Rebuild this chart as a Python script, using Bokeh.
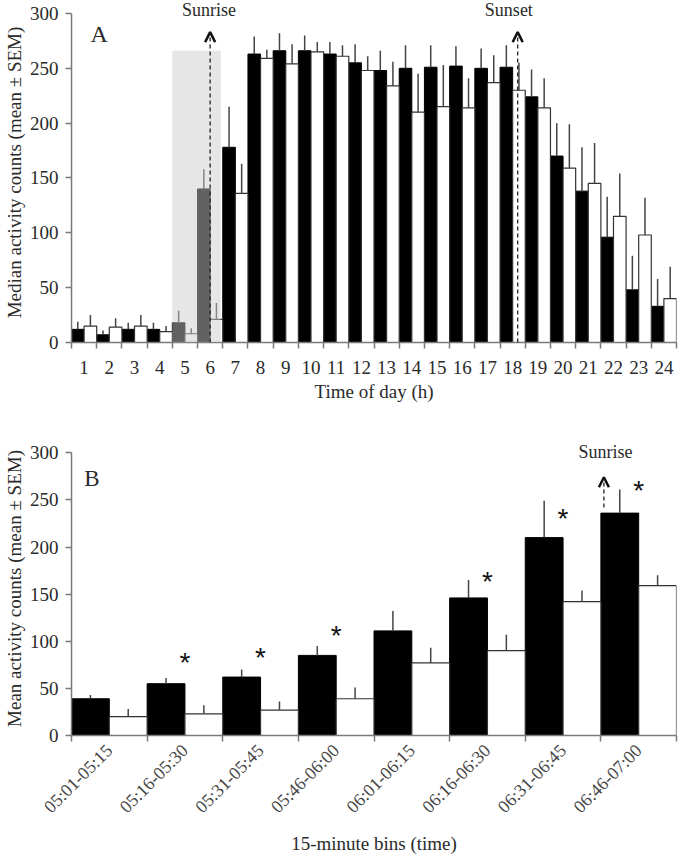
import math
from bokeh.plotting import figure
from bokeh.layouts import column
from bokeh.models import (ColumnDataSource, FixedTicker, BoxAnnotation, Arrow,
                          OpenHead, Label, Range1d)
from bokeh.core.properties import value
from bokeh.transform import dodge
from bokeh.embed import file_html
from bokeh.resources import INLINE

# ---------------- data: panel A ----------------
hours = list(range(1, 25))
hour_labels = [str(h) for h in hours]
black_a = [12, 7, 12, 12, 18, 140, 178, 263, 266, 266, 263, 255, 248, 250, 251, 252, 250, 251, 224, 170, 138, 96, 48, 33]
black_a_sem = [7, 4, 6, 6, 11, 18, 37, 16, 16, 14, 11, 17, 18, 21, 20, 18, 18, 20, 25, 30, 40, 37, 31, 25]
white_a = [15, 14, 15, 10, 8, 21, 136, 259, 254, 265, 261, 248, 234, 210, 215, 214, 237, 230, 214, 159, 145, 115, 98, 40]
white_a_sem = [10, 8, 10, 5, 5, 15, 27, 8, 18, 9, 10, 13, 22, 35, 38, 27, 25, 25, 27, 40, 37, 39, 34, 29]

# ---------------- data: panel B ----------------
bins = ["05:01-05:15", "05:16-05:30", "05:31-05:45", "05:46-06:00",
        "06:01-06:15", "06:16-06:30", "06:31-06:45", "06:46-07:00"]
bin_pos = list(range(1, 9))
black_b = [39, 55, 62, 85, 111, 146, 210, 236]
black_b_sem = [4, 6, 8, 10, 21, 19, 39, 25]
white_b = [20, 23, 27, 39, 77, 90, 142, 159]
white_b_sem = [8, 9, 9, 12, 16, 17, 12, 11]
sig_bins = [2, 3, 4, 6, 7, 8]
sig_y = [86, 91, 115, 172, 239, 268]

FONT = "Liberation Serif"
TXT = "#2a2a2a"
AX = "#7a7a7a"
FS = "19px"


def style(p, left_title):
    p.xgrid.visible = False
    p.ygrid.visible = False
    p.outline_line_color = None
    p.background_fill_color = "white"
    p.border_fill_color = "white"
    for ax in (p.xaxis[0], p.yaxis[0]):
        ax.axis_line_color = AX
        ax.axis_line_width = 1.5
        ax.major_tick_line_color = AX
        ax.minor_tick_line_color = AX
        ax.major_tick_line_width = 1.5
        ax.minor_tick_line_width = 1.5
        ax.major_label_text_font = FONT
        ax.major_label_text_font_size = FS
        ax.major_label_text_color = TXT
        ax.axis_label_text_font = FONT
        ax.axis_label_text_font_size = FS
        ax.axis_label_text_font_style = "normal"
        ax.axis_label_text_color = TXT
    p.yaxis.axis_label = left_title
    p.yaxis.ticker = FixedTicker(ticks=[0, 50, 100, 150, 200, 250, 300])
    p.yaxis.bounds = (0, 300)
    p.yaxis.major_tick_out = 6
    p.yaxis.major_tick_in = 0
    p.yaxis.minor_tick_out = 0
    p.yaxis.minor_tick_in = 0
    p.yaxis.major_label_standoff = 7
    p.yaxis.axis_label_standoff = 2
    p.xaxis.major_tick_out = 0
    p.xaxis.major_tick_in = 0
    p.xaxis.minor_tick_out = 6
    p.xaxis.minor_tick_in = 0


# ================= Panel A =================
srcA = ColumnDataSource(dict(
    x=hours, black=black_a, white=white_a,
    black_top=[m + s for m, s in zip(black_a, black_a_sem)],
    white_top=[m + s for m, s in zip(white_a, white_a_sem)],
))

pA = figure(width=684, height=404, output_backend="svg", toolbar_location=None,
            x_range=Range1d(0.5, 24.5), y_range=Range1d(0, 310),
            min_border_left=60, min_border_right=8, min_border_top=2,
            min_border_bottom=62)
style(pA, "Median activity counts (mean ± SEM)")
pA.xaxis.axis_label = "Time of day (h)"
pA.xaxis.ticker = FixedTicker(ticks=hours, minor_ticks=[h - 0.5 for h in hours] + [24.5])
pA.xaxis.major_label_overrides = {h: l for h, l in zip(hours, hour_labels)}
pA.xaxis.major_label_standoff = 12
pA.xaxis.axis_label_standoff = 4

pA.vbar(x=dodge("x", -0.25), top="black", bottom=0, width=0.5, source=srcA,
        fill_color="black", line_color="black", line_width=1)
pA.vbar(x=dodge("x", 0.25), top="white", bottom=0, width=0.5, source=srcA,
        fill_color="white", line_color="#333333", line_width=1.2)
pA.segment(x0=dodge("x", -0.25), y0="black", x1=dodge("x", -0.25), y1="black_top",
           source=srcA, line_color="#444444", line_width=1.5)
pA.segment(x0=dodge("x", 0.25), y0="white", x1=dodge("x", 0.25), y1="white_top",
           source=srcA, line_color="#444444", line_width=1.5)

pA.add_layout(BoxAnnotation(left=4.5, right=6.42, bottom=0, top=266,
                            fill_color="#cacaca", fill_alpha=0.48, line_color=None))
pA.add_layout(Arrow(x_start=6.0, y_start=0, x_end=6.0, y_end=283,
                    line_color="#222222", line_width=1.3, line_dash="4 3",
                    end=OpenHead(size=10, line_width=2.5, line_color="#111111")))
pA.add_layout(Arrow(x_start=18.2, y_start=0, x_end=18.2, y_end=283,
                    line_color="#222222", line_width=1.3, line_dash="4 3",
                    end=OpenHead(size=10, line_width=2.5, line_color="#111111")))
pA.add_layout(Label(x=5.95, y=303, text="Sunrise", text_align="center", text_baseline="middle",
                    text_font=FONT, text_font_size="18px", text_color=TXT))
pA.add_layout(Label(x=17.85, y=303, text="Sunset", text_align="center", text_baseline="middle",
                    text_font=FONT, text_font_size="18px", text_color=TXT))
pA.add_layout(Label(x=1.6, y=281, text="A", text_align="center", text_baseline="middle",
                    text_font=FONT, text_font_size="24px", text_color=TXT))

# ================= Panel B =================
srcB = ColumnDataSource(dict(
    x=bin_pos, black=black_b, white=white_b,
    black_top=[m + s for m, s in zip(black_b, black_b_sem)],
    white_top=[m + s for m, s in zip(white_b, white_b_sem)],
))
srcS = ColumnDataSource(dict(x=sig_bins, y=sig_y, t=["*"] * len(sig_bins)))

pB = figure(width=684, height=452, output_backend="svg", toolbar_location=None,
            x_range=Range1d(0.5, 8.5), y_range=Range1d(0, 312),
            min_border_left=64, min_border_right=4, min_border_top=37,
            min_border_bottom=121)
style(pB, "Mean activity counts (mean ± SEM)")
pB.xaxis.axis_label = "15-minute bins (time)"
pB.xaxis.ticker = FixedTicker(ticks=bin_pos, minor_ticks=[b - 0.5 for b in bin_pos] + [8.5])
pB.xaxis.major_label_overrides = {b: l for b, l in zip(bin_pos, bins)}
pB.xaxis.major_label_orientation = math.pi / 4
pB.xaxis.major_label_text_font_size = "18px"
pB.xaxis.major_label_standoff = 6
pB.xaxis.axis_label_standoff = 6
pB.xaxis.major_label_text_color = "#444444"

pB.vbar(x=dodge("x", -0.25), top="black", bottom=0, width=0.5, source=srcB,
        fill_color="black", line_color="black", line_width=1)
pB.vbar(x=dodge("x", 0.25), top="white", bottom=0, width=0.5, source=srcB,
        fill_color="white", line_color="#333333", line_width=1.2)
pB.segment(x0=dodge("x", -0.25), y0="black", x1=dodge("x", -0.25), y1="black_top",
           source=srcB, line_color="#444444", line_width=1.5)
pB.segment(x0=dodge("x", 0.25), y0="white", x1=dodge("x", 0.25), y1="white_top",
           source=srcB, line_color="#444444", line_width=1.5)
pB.text(x="x", y="y", text="t", source=srcS, text_align="center", text_baseline="middle",
        y_offset=8, text_font=value("Liberation Sans"), text_font_size="28px",
        text_color="#111111")

pB.add_layout(Arrow(x_start=7.54, y_start=242, x_end=7.54, y_end=274,
                    line_color="#222222", line_width=1.3, line_dash="4 3",
                    end=OpenHead(size=10, line_width=2.5, line_color="#111111")))
pB.add_layout(Label(x=7.56, y=301, text="Sunrise", text_align="center", text_baseline="middle",
                    text_font=FONT, text_font_size="18px", text_color=TXT))
pB.add_layout(Label(x=0.77, y=273, text="B", text_align="center", text_baseline="middle",
                    text_font=FONT, text_font_size="23px", text_color=TXT))

layout = column(pA, pB, spacing=0)
open("out.html", "w").write(file_html(layout, INLINE))
